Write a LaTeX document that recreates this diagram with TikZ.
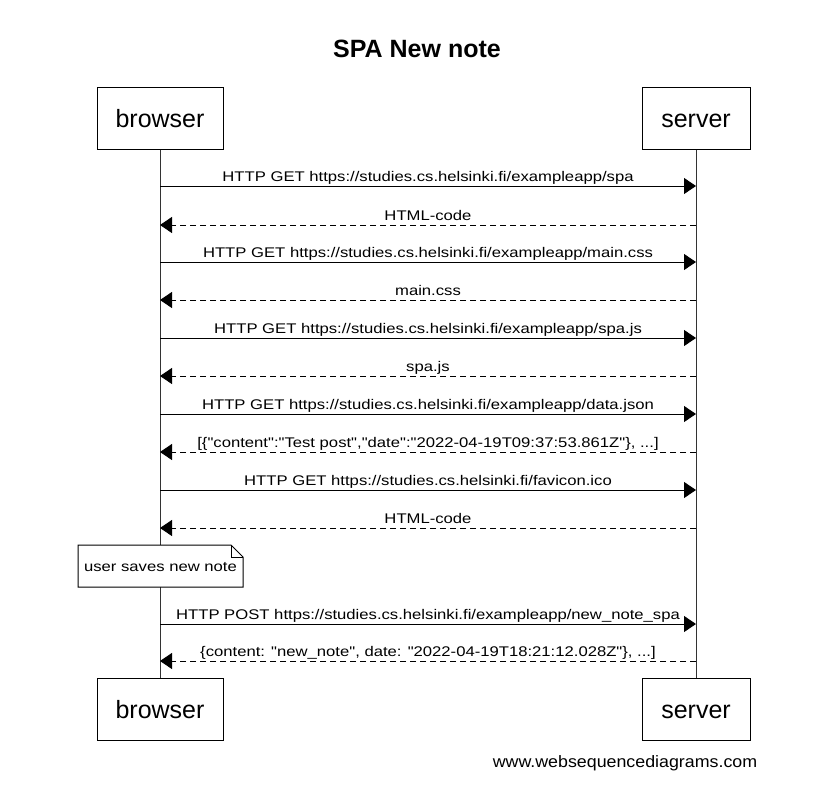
\documentclass[tikz,border=0pt]{standalone}
\usepackage{fontspec}
\setmainfont{Liberation Sans}
\newfontfamily\lblfont[FakeStretch=1.19]{Liberation Sans}
\newfontfamily\footfont[FakeStretch=1.08]{Liberation Sans}
\usetikzlibrary{arrows.meta,calc}
\begin{document}
\begin{tikzpicture}[x=1pt,y=-1pt,
  actor/.style={draw,line width=1pt,minimum width=126pt,minimum height=62pt,font=\fontsize{25}{30}\selectfont,inner sep=0pt,text height=20pt,text depth=2pt},
  lifeline/.style={line width=1pt,draw=black!80},
  msg/.style={line width=1pt,-{Triangle[length=12pt,width=16pt]}},
  ret/.style={msg,dash pattern=on 6pt off 4pt},
  lbl/.style={font=\lblfont\fontsize{14}{16}\selectfont,anchor=base,inner sep=0pt}]
\useasboundingbox (0,0) rectangle (830,795);
\node[font=\bfseries\fontsize{25}{30}\selectfont] (title) at (417,49) {SPA New note};
\node[actor] (b1) at (160,118) {browser};
\node[actor,minimum width=108pt] (s1) at (696,118) {server};
\node[actor] (b2) at (160,709) {browser};
\node[actor,minimum width=108pt] (s2) at (696,709) {server};
\draw[lifeline] (b1.south) -- (b2.north);
\draw[lifeline] (s1.south) -- (s2.north);
\foreach \y/\t/\d [count=\i] in {
  186/{HTTP GET https://studies.cs.helsinki.fi/exampleapp/spa}/0,
  225/{HTML-code}/1,
  262/{HTTP GET https://studies.cs.helsinki.fi/exampleapp/main.css}/0,
  300/{main.css}/1,
  338/{HTTP GET https://studies.cs.helsinki.fi/exampleapp/spa.js}/0,
  376/{spa.js}/1,
  414/{HTTP GET https://studies.cs.helsinki.fi/exampleapp/data.json}/0,
  452/{[\{"content":"Test post","date":"2022-04-19T09:37:53.861Z"\}, ...]}/1,
  490/{HTTP GET https://studies.cs.helsinki.fi/favicon.ico}/0,
  528/{HTML-code}/1,
  624/{HTTP POST https://studies.cs.helsinki.fi/exampleapp/new\_note\_spa}/0,
  661/{\{content: "new\_note", date: "2022-04-19T18:21:12.028Z"\}, ...]}/1}{
  \coordinate (L\i) at (b1.south |- 0,\y);
  \coordinate (R\i) at (s1.south |- 0,\y);
  \ifnum\d=0
    \draw[msg] (L\i) -- (R\i);
  \else
    \draw[ret] (R\i) -- (L\i);
  \fi
  \node[lbl] (t\i) at ($(L\i)!0.5!(R\i)+(0,-5)$) {\t};
}
\draw[line width=1pt,fill=white] (78,545) -- (231,545) -- (243,557) -- (243,587) -- (78,587) -- cycle;
\draw[line width=1pt] (231,545) -- (231,557) -- (243,557);
\node[lbl,anchor=center] (note) at (160.5,567) {user saves new note};
\node[font=\footfont\fontsize{16.5}{20}\selectfont] (foot) at (625,763) {www.websequencediagrams.com};
\end{tikzpicture}
\end{document}
